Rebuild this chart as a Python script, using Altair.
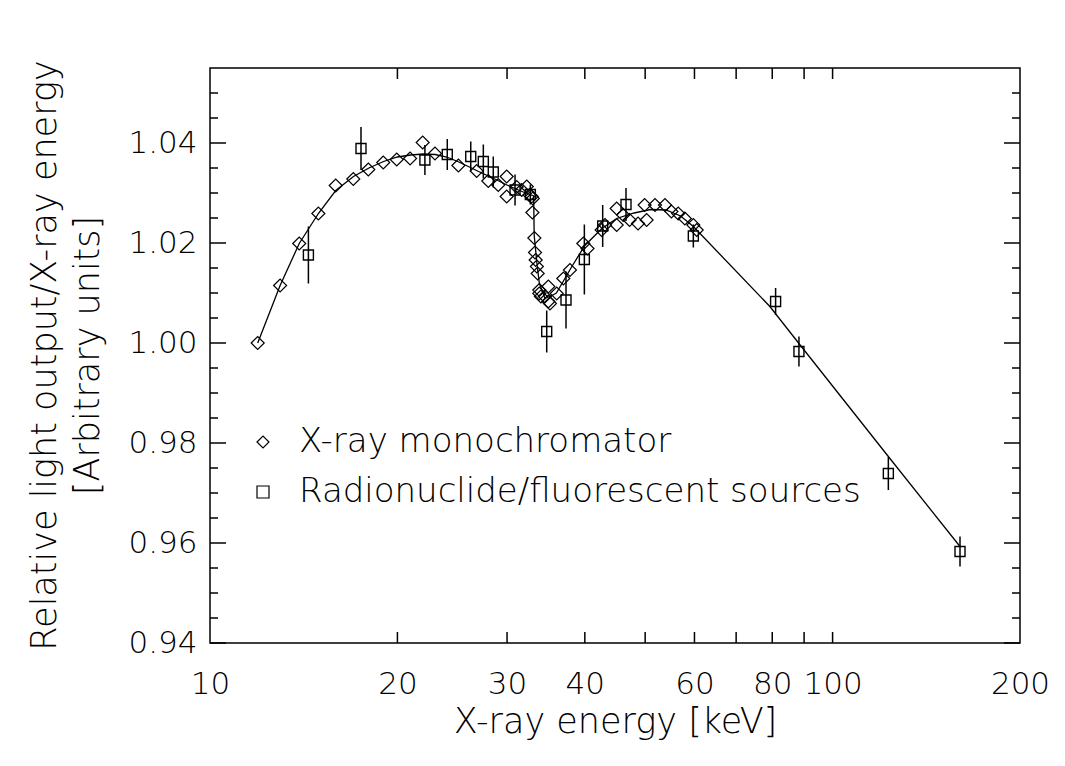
import altair as alt
import pandas as pd

# ---- data ----
mono_energy = [11.93, 12.96, 13.91, 14.93, 15.92, 16.99, 17.96, 18.98, 19.95, 20.96,
               21.96, 22.98, 25.06, 26.81, 27.99, 29.04, 29.96, 29.96, 31.09, 31.67,
               32.27, 32.6, 32.87, 33.0, 32.95, 33.19, 33.27, 33.35, 33.5, 33.6,
               33.8, 33.8, 34.0, 34.5, 34.95, 34.95, 35.16, 36.05, 36.94, 37.86,
               39.78, 40.4, 42.57, 43.1, 45.0, 45.0, 46.1, 47.2, 48.7, 50.27,
               49.9, 51.85, 53.8, 55.1, 56.5, 57.9, 59.75, 60.5]
mono_value = [1.0000, 1.0115, 1.0199, 1.0259, 1.0315, 1.0328, 1.0347, 1.0361, 1.0367, 1.0369,
              1.0401, 1.0379, 1.0355, 1.0344, 1.0324, 1.0316, 1.0333, 1.0293, 1.0312, 1.0306,
              1.0313, 1.0296, 1.0293, 1.0289, 1.0261, 1.0210, 1.0181, 1.0166, 1.0153, 1.0139,
              1.0106, 1.0099, 1.0093, 1.0093, 1.0113, 1.0083, 1.0079, 1.0099, 1.0129, 1.0146,
              1.0199, 1.0189, 1.0226, 1.0236, 1.0269, 1.0236, 1.0256, 1.0246, 1.0239, 1.0246,
              1.0276, 1.0276, 1.0276, 1.0263, 1.0259, 1.0249, 1.0236, 1.0226]

src_energy = [14.39, 17.48, 22.14, 24.05, 26.23, 27.48, 28.51, 30.9, 32.7, 34.74,
              37.31, 39.93, 42.73, 46.58, 59.75, 81.0, 88.3, 122.9, 160.2]
src_value = [1.0176, 1.0389, 1.0366, 1.0377, 1.0373, 1.0363, 1.0342, 1.0306, 1.0297, 1.0023,
             1.0086, 1.0167, 1.0234, 1.0277, 1.0214, 1.0083, 0.9983, 0.9739, 0.9583]
src_err = [0.0057, 0.0043, 0.0030, 0.0031, 0.0030, 0.0034, 0.0031, 0.0031, 0.0020, 0.0042,
           0.0057, 0.0070, 0.0042, 0.0033, 0.0023, 0.0027, 0.0030, 0.0033, 0.0030]

fit_energy = [11.93, 12.96, 13.91, 14.93, 15.92, 17.0, 18.0, 19.0, 20.0, 21.0,
              22.0, 23.0, 24.0, 25.0, 26.0, 27.0, 28.0, 29.0, 30.0, 31.0,
              32.0, 33.1, 33.17, 33.5, 33.8, 34.5, 35.2, 36.0, 37.0, 38.0,
              40.0, 42.6, 45.0, 48.0, 51.0, 54.0, 57.0, 59.75, 79.3, 88.3,
              122.9, 160.2]
fit_value = [1.0000, 1.0115, 1.0199, 1.0259, 1.0305, 1.0333, 1.0350, 1.0363, 1.0372, 1.0376,
             1.0378, 1.0377, 1.0372, 1.0363, 1.0353, 1.0343, 1.0334, 1.0325, 1.0316, 1.0308,
             1.0301, 1.0294, 1.0215, 1.0160, 1.0120, 1.0090, 1.0093, 1.0100, 1.0125, 1.0150,
             1.0195, 1.0229, 1.0249, 1.0260, 1.0267, 1.0266, 1.0254, 1.0233, 1.0073, 0.9999,
             0.9773, 0.9593]

x_label_values = [10, 20, 30, 40, 60, 80, 100, 200]
x_tick_values = [20, 30, 40, 50, 60, 70, 80, 90, 100]
y_major_values = [0.94, 0.96, 0.98, 1.00, 1.02, 1.04]
y_minor_values = [0.945, 0.95, 0.955, 0.965, 0.97, 0.975, 0.985, 0.99, 0.995,
                  1.005, 1.01, 1.015, 1.025, 1.03, 1.035, 1.045, 1.05]

series_names = ["X-ray monochromator", "Radionuclide/fluorescent sources"]

# ---- tables ----
mono = pd.DataFrame({"E": mono_energy, "v": mono_value, "series": series_names[0]})
src = pd.DataFrame({"E": src_energy, "v": src_value, "err": src_err, "series": series_names[1]})
src["lo"] = src["v"] - src["err"]
src["hi"] = src["v"] + src["err"]
fit = pd.DataFrame({"E": fit_energy, "v": fit_value})
xt = pd.DataFrame({"E": x_tick_values})
ymaj = pd.DataFrame({"v": y_major_values})
ymin = pd.DataFrame({"v": y_minor_values})

W, H = 810, 575
FONT = "DejaVu Sans"
xs = alt.Scale(type="log", domain=[10, 200], nice=False)
ys = alt.Scale(domain=[0.94, 1.055], nice=False, zero=False)
shape_scale = alt.Scale(domain=series_names, range=["diamond", "square"])

x_axis = alt.Axis(values=x_label_values, format="d", ticks=False, tickSize=0, domain=False,
                  grid=False, labelFont=FONT, labelFontSize=31, labelColor="black",
                  labelPadding=50, labelBaseline="alphabetic", labelFlush=False,
                  labelOverlap=False, labelFontWeight=200,
                  title="X-ray energy [keV]", titleFont=FONT, titleFontSize=35,
                  titleFontWeight=200, titleColor="black", titleX=405, titleY=89,
                  titleAlign="center", titleBaseline="alphabetic")
y_axis = alt.Axis(values=y_major_values, format=".2f", ticks=False, tickSize=0, domain=False,
                  grid=False, labelFont=FONT, labelFontSize=31, labelColor="black",
                  labelPadding=13, labelFlush=False, labelOverlap=False, labelFontWeight=200,
                  title=["Relative light output/X-ray energy", "[Arbitrary units]"],
                  titleFont=FONT, titleFontSize=35, titleFontWeight=200, titleColor="black",
                  titleAngle=270, titleX=-183, titleY=287, titleAlign="center",
                  titleBaseline="top", titleLineHeight=43)


def X(field):
    return alt.X(field, scale=xs, axis=x_axis)


def Y(field):
    return alt.Y(field, scale=ys, axis=y_axis)


line = alt.Chart(fit).mark_line(color="black", strokeWidth=1.3).encode(
    x=X("E:Q"), y=Y("v:Q"),
)

errbars = alt.Chart(src).mark_rule(color="black", strokeWidth=1.5).encode(
    x=X("E:Q"), y=Y("lo:Q"), y2="hi:Q",
)

diamonds = alt.Chart(mono).mark_point(filled=False, color="black", size=169, strokeWidth=1.2,
                                      opacity=1).encode(
    x=X("E:Q"), y=Y("v:Q"),
    shape=alt.Shape("series:N", scale=shape_scale,
                    legend=alt.Legend(orient="none", legendX=36, legendY=357, title=None,
                                      padding=0, labelFont=FONT, labelFontSize=34,
                                      labelFontWeight=200, labelColor="black",
                                      labelOffset=19, rowPadding=16, symbolSize=144,
                                      symbolStrokeWidth=1.2, symbolStrokeColor="black",
                                      symbolFillColor="white", labelLimit=0)),
)

squares = alt.Chart(src).mark_point(filled=False, color="black", size=100, strokeWidth=1.4,
                                    opacity=1).encode(
    x=X("E:Q"), y=Y("v:Q"),
    shape=alt.Shape("series:N", scale=shape_scale),
)

tick_style = dict(color="black", strokeWidth=1.5)
xt_bottom = alt.Chart(xt).mark_rule(**tick_style).encode(
    x=X("E:Q"), y=alt.value(H), y2=alt.value(H - 11))
xt_top = alt.Chart(xt).mark_rule(**tick_style).encode(
    x=X("E:Q"), y=alt.value(0), y2=alt.value(11))
ymaj_left = alt.Chart(ymaj).mark_rule(**tick_style).encode(
    y=Y("v:Q"), x=alt.value(0), x2=alt.value(16))
ymaj_right = alt.Chart(ymaj).mark_rule(**tick_style).encode(
    y=Y("v:Q"), x=alt.value(W), x2=alt.value(W - 16))
ymin_left = alt.Chart(ymin).mark_rule(**tick_style).encode(
    y=Y("v:Q"), x=alt.value(0), x2=alt.value(8))
ymin_right = alt.Chart(ymin).mark_rule(**tick_style).encode(
    y=Y("v:Q"), x=alt.value(W), x2=alt.value(W - 8))

chart = alt.layer(
    line, errbars, diamonds, squares,
    xt_bottom, xt_top, ymaj_left, ymaj_right, ymin_left, ymin_right,
).properties(
    width=W, height=H,
    autosize=alt.AutoSizeParams(type="none"),
    padding={"left": 202, "top": 60, "right": 37, "bottom": 110},
    background="white",
).configure_view(
    stroke="black", strokeWidth=1.5
)

chart.save("out.html", embed_options={"renderer": "svg", "actions": False})
